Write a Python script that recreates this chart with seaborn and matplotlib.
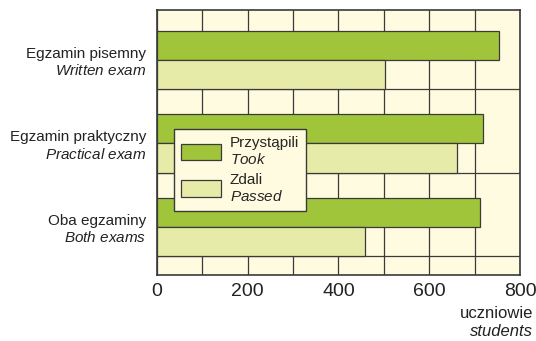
import matplotlib
matplotlib.use("Agg")
import matplotlib.pyplot as plt
import seaborn as sns
import pandas as pd
from matplotlib.ticker import MultipleLocator, FixedLocator

# Exam categories (Polish / English) and counts of students
categories_pl = ["Egzamin pisemny", "Egzamin praktyczny", "Oba egzaminy"]
categories_en = ["Written exam", "Practical exam", "Both exams"]
took = [754, 719, 713]
passed = [503, 662, 459]
series_pl = ["Przystąpili", "Zdali"]
series_en = ["Took", "Passed"]
x_ticks = [0, 200, 400, 600, 800]
unit_pl, unit_en = "uczniowie", "students"

sns.set_theme(style="white")
plt.rcParams["font.family"] = ["Liberation Sans", "DejaVu Sans"]
plt.rcParams["mathtext.fontset"] = "custom"
plt.rcParams["mathtext.rm"] = "Liberation Sans"
plt.rcParams["mathtext.it"] = "Liberation Sans:italic"

def two_line(top, bottom):
    return top + "\n$\\mathit{" + bottom.replace(" ", "\\ ") + "}$"

cat_labels = [two_line(p, e) for p, e in zip(categories_pl, categories_en)]
ser_labels = [two_line(p, e) for p, e in zip(series_pl, series_en)]

df = pd.DataFrame({
    "category": cat_labels * 2,
    "series": [ser_labels[0]] * 3 + [ser_labels[1]] * 3,
    "value": took + passed,
})

GREEN = "#a0c53a"
PALE = "#e6eca8"
CREAM = "#fffbe0"
EDGE = "#3a3a3a"
TEXT = "#222222"

fig = plt.figure(figsize=(5.36, 3.41), dpi=100)
ax = fig.add_axes([0.2929, 0.1935, 0.6772, 0.7772])
ax.set_facecolor(CREAM)

sns.barplot(data=df, y="category", x="value", hue="series", orient="h",
            palette=[GREEN, PALE], width=0.7, edgecolor=EDGE, linewidth=0.9,
            saturation=1, ax=ax, zorder=3)

ax.set_xlim(0, 800)
ax.set_ylim(2.58, -0.6)
ax.set_xticks(x_ticks)
ax.xaxis.set_minor_locator(MultipleLocator(100))
ax.yaxis.set_minor_locator(FixedLocator([0.35, 1.35, 2.35]))
ax.grid(which="minor", color=EDGE, linewidth=0.9, zorder=1)
ax.grid(which="major", axis="x", color=EDGE, linewidth=0.9, zorder=1)
ax.set_axisbelow(True)
ax.tick_params(which="both", length=0)
ax.tick_params(axis="x", labelsize=14, pad=6, colors=TEXT)
ax.tick_params(axis="y", labelsize=11, pad=8, colors=TEXT)
for lbl in ax.get_yticklabels():
    lbl.set_horizontalalignment("right")
    lbl.set_multialignment("right")
ax.set_xlabel("")
ax.set_ylabel("")
for s in ax.spines.values():
    s.set_visible(True)
    s.set_color(EDGE)
    s.set_linewidth(1.2)

leg = ax.legend(loc="upper left", bbox_to_anchor=(0.047, 0.551), borderaxespad=0,
                fontsize=11, frameon=True, fancybox=False, facecolor=CREAM,
                edgecolor=EDGE, framealpha=1, handlelength=2.6, handleheight=1.3,
                handletextpad=0.6, labelspacing=0.35, borderpad=0.45)
leg.get_frame().set_linewidth(1.0)
leg.set_zorder(5)

# Unit caption under the right end of the value axis
fig.text(0.994, 1 - 318 / 341, unit_pl, ha="right", va="baseline",
         fontsize=12, color=TEXT)
fig.text(0.994, 1 - 336 / 341, unit_en, ha="right", va="baseline",
         fontsize=12, color=TEXT, style="italic")

fig.savefig("out.png", dpi=100, facecolor="white")
